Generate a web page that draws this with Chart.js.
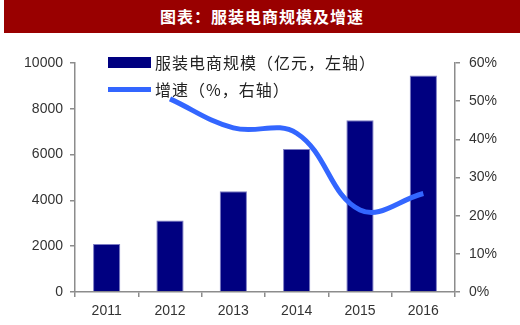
<!DOCTYPE html>
<html>
<head>
<meta charset="utf-8">
<script src="https://cdn.jsdelivr.net/npm/chart.js@4/dist/chart.umd.min.js"></script>
<style>
  body { margin: 0; background: #fff; width: 520px; height: 325px; overflow: hidden; }
  #head {
    position: absolute; left: 4px; top: 0; width: 516px; height: 33px;
    background: #990000; color: #fff;
    font: bold 16px "Noto Sans CJK SC", sans-serif; letter-spacing: 1px;
    line-height: 33px; text-align: center;
  }
  #wrap { position: absolute; left: 0; top: 33px; width: 520px; height: 292px; }
</style>
</head>
<body>
<div id="head">图表：服装电商规模及增速</div>
<div id="wrap"><canvas id="chart"></canvas></div>
<script>
const years = ['2011', '2012', '2013', '2014', '2015', '2016'];
const scale = [2100, 3120, 4400, 6250, 7500, 9450];      // 亿元
const growth = [null, 50.6, 43.0, 41.6, 21.5, 25.8];     // %

const barLabel = '服装电商规模（亿元，左轴）';
const lineLabel = '增速（%，右轴）';

const navy = '#000080';
const blue = '#3366ff';
const axisColor = '#8c8c8c';

// legend sits inside the plot, top left, like the original
const legendInside = {
    id: 'legendInside',
    afterDraw(chart) {
        const ctx = chart.ctx;
        const x = chart.chartArea.left + 33;
        ctx.save();
        ctx.fillStyle = navy;
        ctx.fillRect(x, 24, 43, 11);
        ctx.strokeStyle = blue;
        ctx.lineWidth = 5;
        ctx.beginPath();
        ctx.moveTo(x, 56.5);
        ctx.lineTo(x + 43, 56.5);
        ctx.stroke();
        ctx.fillStyle = '#222';
        ctx.font = '16px "Noto Sans CJK SC", sans-serif';
        ctx.letterSpacing = '1px';
        ctx.textBaseline = 'middle';
        ctx.fillText(barLabel, x + 47, 29.5);
        ctx.fillText(lineLabel, x + 47, 56.5);
        ctx.restore();
    }
};

const tickFont = { family: '"Liberation Sans", Arial, sans-serif', size: 14 };

new Chart(document.getElementById('chart'), {
    type: 'bar',
    data: {
        labels: years,
        datasets: [{
            type: 'line',
            label: lineLabel,
            data: growth,
            yAxisID: 'y1',
            borderColor: blue,
            borderWidth: 5,
            pointRadius: 0,
            tension: 0.4,
            fill: false,
            order: 0
        }, {
            label: barLabel,
            data: scale,
            yAxisID: 'y',
            backgroundColor: navy,
            borderColor: 'rgba(110,110,190,0.9)',
            borderWidth: 1,
            categoryPercentage: 1,
            barPercentage: 0.43,
            order: 1
        }]
    },
    options: {
        responsive: true,
        maintainAspectRatio: false,
        animation: false,
        layout: { padding: { top: 30, left: 0, right: 0, bottom: 0 } },
        plugins: {
            legend: { display: false },
            tooltip: { enabled: false }
        },
        scales: {
            x: {
                grid: { drawOnChartArea: false, tickLength: 5, color: axisColor, lineWidth: 1.5 },
                border: { color: axisColor, width: 1.5 },
                ticks: { color: '#333', font: tickFont, padding: 6 },
                afterFit: s => { s.height = 33; }
            },
            y: {
                position: 'left',
                min: 0, max: 10000,
                grid: { drawOnChartArea: false, tickLength: 5, color: axisColor, lineWidth: 1.5 },
                border: { color: axisColor, width: 1.5 },
                ticks: { stepSize: 2000, color: '#333', font: tickFont, padding: 7, callback: v => String(v) },
                afterFit: s => { s.width = 75; }
            },
            y1: {
                position: 'right',
                min: 0, max: 60,
                grid: { drawOnChartArea: false, tickLength: 5, color: axisColor, lineWidth: 1.5 },
                border: { color: axisColor, width: 1.5 },
                ticks: { stepSize: 10, color: '#333', font: tickFont, padding: 9, callback: v => v + '%' },
                afterFit: s => { s.width = 65; }
            }
        }
    },
    plugins: [legendInside]
});
</script>
</body>
</html>
